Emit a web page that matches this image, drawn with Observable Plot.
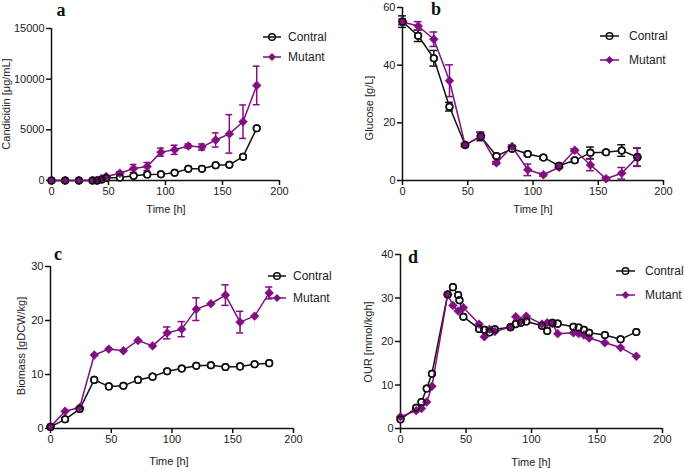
<!DOCTYPE html>
<html>
<head>
<meta charset="utf-8">
<script src="https://cdn.jsdelivr.net/npm/d3@7"></script>
<script src="https://cdn.jsdelivr.net/npm/@observablehq/plot@0.6"></script>
<style>
  html, body { margin: 0; padding: 0; background: #fff; }
  #wrap { position: relative; width: 685px; height: 469px; overflow: hidden; background: #fff; }
  #wrap > svg, #wrap > figure { position: absolute; margin: 0; }
</style>
</head>
<body>
<div id="wrap"></div>
<script>
// ---------- data ----------
const seriesNames = ["Contral", "Mutant"];
const xTicks = [0, 50, 100, 150, 200];

// (a) Candicidin [μg/mL]
const timeA = [0, 12, 24, 36, 40, 44, 48, 60, 72, 84, 96, 108, 120, 132, 144, 156, 168, 180];
const candControl = [0, 0, 0, 0, 0, 100, 250, 300, 460, 590, 620, 760, 1150, 1150, 1500, 1550, 2350, 5150];
const candMutant = [0, 0, 0, 0, 0, 200, 400, 720, 1180, 1380, 2800, 3030, 3400, 3300, 4000, 4600, 5800, 9380];
const candMutantErr = [0, 0, 0, 0, 0, 0, 0, 150, 400, 400, 400, 450, 200, 300, 700, 1900, 1650, 1900];
const candTicks = [0, 5000, 10000, 15000];

// (b) Glucose [g/L]
const timeB = [0, 12, 24, 36, 48, 60, 72, 84, 96, 108, 120, 132, 144, 156, 168, 180];
const gluControl = [55.1, 50.2, 42.4, 25.6, 12.3, 15.3, 8.5, 11.0, 9.2, 8.0, 5.1, 7.0, 9.6, 9.8, 10.4, 8.1];
const gluControlErr = [2.0, 2.0, 2.7, 1.5, 0.5, 1.5, 0.5, 0.5, 0.5, 0.5, 0.5, 0.5, 2.0, 0.5, 2.0, 3.1];
const gluMutant = [55.0, 53.6, 49.0, 34.6, 12.3, 15.5, 6.1, 11.8, 3.7, 2.0, 4.6, 10.5, 5.4, 0.6, 2.5, 8.1];
const gluMutantErr = [1.0, 1.5, 2.5, 5.5, 0.5, 1.0, 0.5, 0.5, 2.0, 0.5, 0.5, 0.5, 2.0, 0.5, 2.0, 3.2];
const gluTicks = [0, 20, 40, 60];

// (c) Biomass [gDCW/kg]
const timeC = [0, 12, 24, 36, 48, 60, 72, 84, 96, 108, 120, 132, 144, 156, 168, 180];
const bioControl = [0.3, 1.7, 3.6, 9.0, 7.8, 7.9, 9.0, 9.6, 10.6, 11.1, 11.6, 11.7, 11.4, 11.5, 11.9, 12.1];
const bioMutant = [0.3, 3.2, 3.9, 13.6, 14.7, 14.4, 16.3, 15.3, 17.7, 18.4, 22.1, 23.1, 24.7, 19.7, 20.8, 25.1];
const bioMutantErr = [0, 0, 0, 0, 0, 0, 0, 0, 1.1, 1.4, 2.1, 0, 1.9, 2.0, 0, 1.1];
const bioTicks = [0, 10, 20, 30];

// (d) OUR [mmol/kgh]
const timeDControl = [0, 12, 16, 20, 24, 36, 40, 44, 45, 48, 60, 64, 68, 72, 84, 88, 92, 96, 108, 112, 116, 120, 132, 136, 140, 144, 156, 168, 180];
const ourControl = [2.1, 4.75, 6.1, 9.2, 12.6, 30.8, 32.5, 30.7, 29.5, 25.7, 22.9, 22.7, 22.1, 22.8, 23.3, 24.0, 24.3, 24.6, 23.6, 22.4, 24.3, 24.1, 23.4, 23.2, 22.7, 22.0, 21.5, 20.5, 22.2];
const timeDMutant = [0, 12, 16, 20, 24, 36, 40, 44, 48, 60, 64, 68, 72, 84, 88, 92, 96, 108, 112, 116, 120, 132, 136, 140, 144, 156, 168, 180];
const ourMutant = [2.7, 4.1, 4.6, 6.1, 9.7, 30.8, 28.3, 27.0, 27.8, 24.0, 21.1, 22.8, 22.3, 23.3, 25.7, 24.7, 25.8, 24.0, 24.3, 24.1, 21.8, 22.0, 21.8, 21.5, 20.8, 19.7, 18.6, 16.6];
const ourTicks = [0, 10, 20, 30, 40];

// ---------- style ----------
const BLACK = "#111";
const PURPLE = "#800f80";
const FONT = "'Liberation Sans', Arial, Helvetica, sans-serif";

const zip = (t, v, e) => t.map((x, i) => ({t: x, v: v[i], e: e ? e[i] : 0}));

function seriesMarks(control, mutant, capHalf) {
  const marks = [];
  // control line + error bars + white-filled circles
  marks.push(Plot.line(control, {x: "t", y: "v", stroke: BLACK, strokeWidth: 1.5}));
  const cErr = control.filter(d => d.e > 0);
  marks.push(Plot.ruleX(cErr, {x: "t", y1: d => d.v - d.e, y2: d => d.v + d.e, stroke: BLACK, strokeWidth: 1.5}));
  marks.push(Plot.ruleY(cErr, {y: d => d.v - d.e, x1: d => d.t - capHalf, x2: d => d.t + capHalf, stroke: BLACK, strokeWidth: 1.5}));
  marks.push(Plot.ruleY(cErr, {y: d => d.v + d.e, x1: d => d.t - capHalf, x2: d => d.t + capHalf, stroke: BLACK, strokeWidth: 1.5}));
  marks.push(Plot.dot(control, {x: "t", y: "v", r: 3.3, fill: "white", stroke: BLACK, strokeWidth: 1.5}));
  // mutant
  marks.push(Plot.line(mutant, {x: "t", y: "v", stroke: PURPLE, strokeWidth: 1.5}));
  const mErr = mutant.filter(d => d.e > 0);
  marks.push(Plot.ruleX(mErr, {x: "t", y1: d => d.v - d.e, y2: d => d.v + d.e, stroke: PURPLE, strokeWidth: 1.5}));
  marks.push(Plot.ruleY(mErr, {y: d => d.v - d.e, x1: d => d.t - capHalf, x2: d => d.t + capHalf, stroke: PURPLE, strokeWidth: 1.5}));
  marks.push(Plot.ruleY(mErr, {y: d => d.v + d.e, x1: d => d.t - capHalf, x2: d => d.t + capHalf, stroke: PURPLE, strokeWidth: 1.5}));
  marks.push(Plot.dot(mutant, {x: "t", y: "v", symbol: "diamond2", r: 4, fill: PURPLE, stroke: PURPLE, strokeWidth: 0.5}));
  // control outlines on top
  marks.push(Plot.dot(control, {x: "t", y: "v", r: 3.3, fill: "none", stroke: BLACK, strokeWidth: 1.5}));
  return marks;
}

function panel(cfg) {
  const svg = Plot.plot({
    width: cfg.width, height: cfg.height,
    marginLeft: cfg.mL, marginRight: cfg.mR, marginTop: cfg.mT, marginBottom: cfg.mB,
    x: {domain: [0, 200]},
    y: {domain: cfg.yDomain},
    style: {fontFamily: FONT, fontSize: "11px", color: "#222", background: "transparent", overflow: "visible"},
    marks: [
      Plot.axisX({ticks: xTicks, tickSize: 5, tickPadding: 2, label: null, stroke: BLACK, strokeWidth: 1.5, tickFormat: d => String(d)}),
      Plot.axisY({ticks: cfg.yTicks, tickSize: 5, tickPadding: 2, label: null, stroke: BLACK, strokeWidth: 1.5, tickFormat: d => String(d)}),
      Plot.ruleX([0], {stroke: BLACK, strokeWidth: 1.5}),
      Plot.ruleY([cfg.yDomain[0]], {stroke: BLACK, strokeWidth: 1.5}),
      ...seriesMarks(cfg.control, cfg.mutant, 3)
    ]
  });
  svg.style.left = cfg.left + "px";
  svg.style.top = cfg.top + "px";
  document.getElementById("wrap").appendChild(svg);
}

panel({left: 0, top: 0, width: 340, height: 230, mL: 51, mR: 61, mT: 28, mB: 50,
  yDomain: [0, 15000], yTicks: candTicks,
  control: zip(timeA, candControl), mutant: zip(timeA, candMutant, candMutantErr)});

panel({left: 340, top: 0, width: 345, height: 230, mL: 62, mR: 22, mT: 7, mB: 50,
  yDomain: [0, 60], yTicks: gluTicks,
  control: zip(timeB, gluControl, gluControlErr), mutant: zip(timeB, gluMutant, gluMutantErr)});

panel({left: 0, top: 235, width: 340, height: 234, mL: 50, mR: 47, mT: 31, mB: 41,
  yDomain: [0, 30], yTicks: bioTicks,
  control: zip(timeC, bioControl), mutant: zip(timeC, bioMutant, bioMutantErr)});

panel({left: 340, top: 235, width: 345, height: 234, mL: 60, mR: 23, mT: 19, mB: 41,
  yDomain: [0, 40], yTicks: ourTicks,
  control: zip(timeDControl, ourControl), mutant: zip(timeDMutant, ourMutant)});

// ---------- overlay: panel letters, axis titles, legends ----------
const overlay = d3.select("#wrap").append("svg")
  .attr("width", 685).attr("height", 469)
  .style("left", "0px").style("top", "0px")
  .style("font-family", FONT);

const letters = [
  {t: "a", x: 61, y: 16}, {t: "b", x: 436, y: 15},
  {t: "c", x: 58, y: 260}, {t: "d", x: 413, y: 263}
];
overlay.selectAll("text.letter").data(letters).join("text")
  .attr("x", d => d.x).attr("y", d => d.y)
  .attr("text-anchor", "middle")
  .style("font-family", "'Liberation Serif', 'Times New Roman', serif")
  .style("font-weight", "bold").style("font-size", "18px").attr("fill", "#111")
  .text(d => d.t);

const xTitles = [{x: 166, y: 213}, {x: 533, y: 213}, {x: 169, y: 465}, {x: 531, y: 466}];
overlay.selectAll("text.xt").data(xTitles).join("text")
  .attr("x", d => d.x).attr("y", d => d.y).attr("text-anchor", "middle")
  .style("font-size", "11px").attr("fill", "#222").text("Time [h]");

const yTitles = [
  {t: "Candicidin [μg/mL]", x: 10, y: 104},
  {t: "Glucose [g/L]", x: 373, y: 108},
  {t: "Biomass [gDCW/kg]", x: 25, y: 346},
  {t: "OUR [mmol/kgh]", x: 372, y: 342}
];
overlay.selectAll("text.yt").data(yTitles).join("text")
  .attr("transform", d => `translate(${d.x},${d.y}) rotate(-90)`)
  .attr("text-anchor", "middle")
  .style("font-size", "11px").attr("fill", "#222").text(d => d.t);

const legends = [
  {x1: 263, x2: 281, tx: 288, y: [37, 57]},
  {x1: 600, x2: 619, tx: 629, y: [36, 60]},
  {x1: 268, x2: 286, tx: 293, y: [276, 298]},
  {x1: 616, x2: 635, tx: 645, y: [271, 295]}
];
legends.forEach(L => {
  seriesNames.forEach((name, i) => {
    const y = L.y[i];
    const col = i === 0 ? BLACK : PURPLE;
    const cx = (L.x1 + L.x2) / 2;
    overlay.append("line").attr("x1", L.x1).attr("x2", L.x2).attr("y1", y).attr("y2", y)
      .attr("stroke", col).attr("stroke-width", 1.5);
    if (i === 0) {
      overlay.append("circle").attr("cx", cx).attr("cy", y).attr("r", 3.3)
        .attr("fill", "none").attr("stroke", col).attr("stroke-width", 1.5);
    } else {
      const s = 4;
      overlay.append("path").attr("d", `M${cx},${y - s}L${cx + s},${y}L${cx},${y + s}L${cx - s},${y}Z`)
        .attr("fill", col);
    }
    overlay.append("text").attr("x", L.tx).attr("y", y).attr("dy", "0.35em")
      .style("font-size", "12px").attr("fill", "#222").text(name);
  });
});
</script>
</body>
</html>
